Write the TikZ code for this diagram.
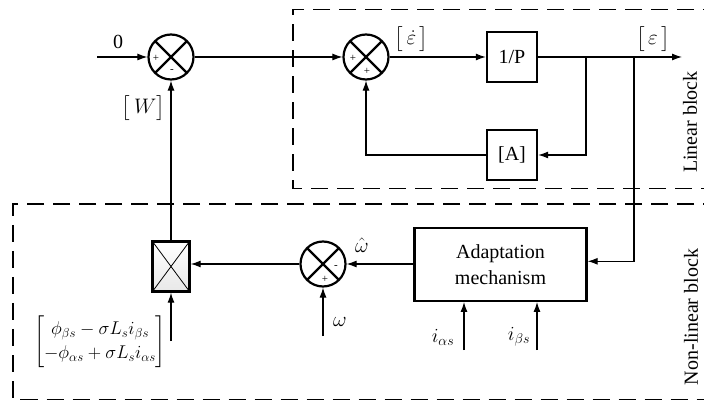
\RequirePackage{fix-cm}
\documentclass[tikz,border=0pt]{standalone}
\usepackage{amsmath}
\usepackage{fontspec}
\setmainfont{Liberation Serif}
\usetikzlibrary{arrows.meta,calc}
\begin{document}
\begin{tikzpicture}[x=1pt,y=-1pt,
  every node/.style={font=\fontsize{20}{22}\selectfont},
  mth/.style={font=\fontsize{21}{23}\selectfont,inner sep=0pt},
  arr/.style={line width=1.1pt,-{Latex[length=10pt,width=7pt]}},
  sumnode/.style={circle,draw,line width=2.2pt,minimum size=45pt,inner sep=0pt,
    path picture={\draw[line width=2.2pt] (path picture bounding box.north west) -- (path picture bounding box.south east)
      (path picture bounding box.north east) -- (path picture bounding box.south west);}},
  blk/.style={draw,line width=2.4pt,minimum width=50pt,minimum height=50pt,inner sep=0pt},
  sgn/.style={font=\fontsize{11}{11}\selectfont,inner sep=0pt},
  dbox/.style={draw,line width=1.1pt,dash pattern=on 17pt off 9pt},
  lbl/.style={inner sep=0pt}
]
\useasboundingbox (0,0) rectangle (704,403);
\clip (0,0) rectangle (704,403);
\fill[white] (0,0) rectangle (704,403);

% dashed regions
\draw[dbox] (720,9.5) -- (293,9.5) -- (293,188.5) -- (720,188.5);
\draw[dbox] (720,204) -- (13,204) -- (13,399.5) -- (720,399.5);
\node[rotate=90,lbl] (lin) at (690,122) {Linear block};
\node[rotate=90,lbl] (nonlin) at (691,317) {Non-linear block};

% nodes
\node[sumnode] (s1) at (171,57) {};
\node[sumnode] (s2) at (366,57) {};
\node[sumnode] (s3) at (323,264) {};
\node[blk] (P) at (512,57) {1/P};
\node[blk] (A) at (512,155) {[A]};
\node[draw,line width=2.4pt,minimum width=172pt,minimum height=73pt,align=center,inner sep=0pt,
  font=\fontsize{20}{26}\selectfont] (ad) at (500.5,264.3) {Adaptation\\mechanism};
\node[draw,line width=2.4pt,minimum width=37pt,minimum height=50pt,inner sep=0pt,
  top color=white,bottom color=gray!18,
  path picture={\draw[line width=0.8pt] (path picture bounding box.north west) -- (path picture bounding box.south east)
      (path picture bounding box.north east) -- (path picture bounding box.south west);}] (M) at (171,266.5) {};

% signs
\node[sgn] at ($(s1)+(-15,1)$) {+};
\node[sgn] at ($(s1)+(1,14)$) {-};
\node[sgn] at ($(s2)+(-13,1)$) {+};
\node[sgn] at ($(s2)+(1,14)$) {+};
\node[sgn] at ($(s3)+(13,3)$) {-};
\node[sgn] at ($(s3)+(2,15)$) {+};

% free ends
\coordinate (in0) at (97,57);
\coordinate (out) at (682,57);
\coordinate (br1) at (586,57);
\coordinate (br2) at (634,57);
\coordinate (matin) at (171,341);
\coordinate (win) at (323,336);
\coordinate (ia) at (464,350);
\coordinate (ib) at (537,350);

% connectors
\draw[arr] (in0) -- (s1.west);
\draw[arr] (s1.east) -- (s2.west);
\draw[arr] (s2.east) -- (P.west);
\draw[arr] (P.east) -- (out);
\draw[arr] (br1) |- (A.east);
\draw[arr] (A.west) -| (s2.south);
\draw[arr] (br2) |- ($(ad.east)+(0,-3)$);
\draw[arr] (ad.west |- s3) -- (s3.east);
\draw[arr] (s3.west) -- (s3.west -| M.east);
\draw[arr] (M.north) -- (s1.south);
\draw[arr] (matin) -- (M.south);
\draw[arr] (win) -- (s3.south);
\draw[arr] (ia) -- (ia |- ad.south);
\draw[arr] (ib) -- (ib |- ad.south);

% labels
\node[lbl] (l0) at (118,42) {0};
\node[mth] (lW) at (143.5,108) {$\bigl[\,W\bigr]$};
\node[mth] (led) at (411.5,39.5) {$\bigl[\,\dot{\varepsilon}\,\bigr]$};
\node[mth] (le) at (653,39.5) {$\bigl[\,\varepsilon\,\bigr]$};
\node[mth] (lwh) at (362,245) {$\hat{\omega}$};
\node[mth] (lw) at (340,322) {$\omega$};
\node[lbl] (lia) at (443,337) {$i_{\alpha s}$};
\node[lbl] (lib) at (519,337) {$i_{\beta s}$};
\node[lbl,font=\fontsize{18.5}{20}\selectfont] (lm) at (100,342)
  {$\renewcommand\arraystretch{1.2}\begin{bmatrix}\phi_{\beta s}-\sigma L_s i_{\beta s}\\ -\phi_{\alpha s}+\sigma L_s i_{\alpha s}\end{bmatrix}$};
\end{tikzpicture}
\end{document}
